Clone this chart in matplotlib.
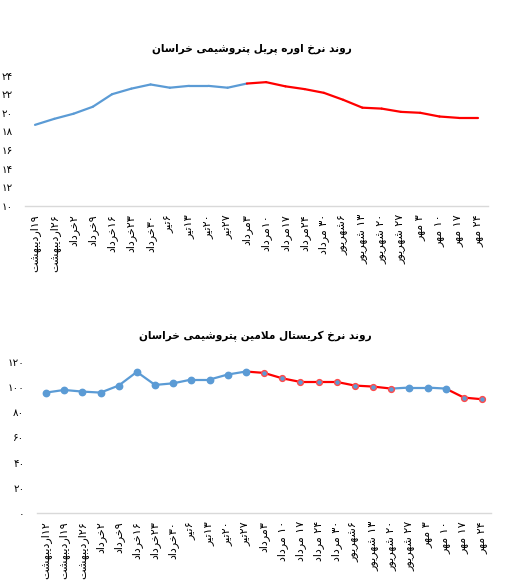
import matplotlib
matplotlib.use("Agg")
import matplotlib.pyplot as plt
from matplotlib.ticker import FuncFormatter

# ---- data ----
urea_labels = ["۱۹اردیبهشت", "۲۶اردیبهشت", "۲خرداد", "۹خرداد", "۱۶خرداد", "۲۳خرداد",
               "۳۰خرداد", "۶تیر", "۱۳تیر", "۲۰تیر", "۲۷تیر", "۳مرداد", "۱۰مرداد",
               "۱۷مرداد", "۲۴مرداد", "۳۰ مرداد", "۶شهریور", "۱۳ شهریور", "۲۰ شهریور",
               "۲۷ شهریور", "۳ مهر", "۱۰ مهر", "۱۷ مهر", "۲۴ مهر"]
urea_values = [18.7, 19.35, 19.9, 20.65, 22.0, 22.6, 23.05, 22.7, 22.9, 22.9, 22.7, 23.15,
               23.3, 22.85, 22.55, 22.15, 21.4, 20.55, 20.45, 20.1, 20.0, 19.6, 19.45, 19.45]

melamine_labels = ["۱۲اردیبهشت", "۱۹اردیبهشت", "۲۶اردیبهشت", "۲خرداد", "۹خرداد", "۱۶خرداد",
                   "۲۳خرداد", "۳۰خرداد", "۶تیر", "۱۳تیر", "۲۰تیر", "۲۷تیر", "۳مرداد",
                   "۱۰ مرداد", "۱۷ مرداد", "۲۴ مرداد", "۳۰ مرداد", "۶شهریور", "۱۳ شهریور",
                   "۲۰ شهریور", "۲۷ شهریور", "۳ مهر", "۱۰ مهر", "۱۷ مهر", "۲۴ مهر"]
melamine_values = [95.8, 97.9, 96.6, 95.8, 101.4, 112.3, 101.9, 103.2, 106.2, 106.2, 110.2, 112.6,
                   111.5, 107.2, 104.3, 104.3, 104.3, 101.4, 100.6, 99.0, 99.8, 99.8, 99.0,
                   91.8, 90.5]

# styling: which segments / points are drawn red
urea_red_segments = [i >= 11 for i in range(len(urea_values) - 1)]
mel_red_segments = [(11 <= i <= 18) or i >= 22 for i in range(len(melamine_values) - 1)]
mel_red_points = [(12 <= i <= 19) or i >= 23 for i in range(len(melamine_values))]

BLUE = "#5B9BD5"
RED = "#FF0000"
GRID = "#D9D9D9"

# ---- minimal Persian shaping (matplotlib has no bidi / joining) ----
# isolated, final, initial, medial
FORMS = {
    "ا": ("\uFE8D", "\uFE8E", None, None),
    "ب": ("\uFE8F", "\uFE90", "\uFE91", "\uFE92"),
    "پ": ("\uFB56", "\uFB57", "\uFB58", "\uFB59"),
    "ت": ("\uFE95", "\uFE96", "\uFE97", "\uFE98"),
    "خ": ("\uFEA5", "\uFEA6", "\uFEA7", "\uFEA8"),
    "د": ("\uFEA9", "\uFEAA", None, None),
    "ر": ("\uFEAD", "\uFEAE", None, None),
    "س": ("\uFEB1", "\uFEB2", "\uFEB3", "\uFEB4"),
    "ش": ("\uFEB5", "\uFEB6", "\uFEB7", "\uFEB8"),
    "ک": ("\uFB8E", "\uFB8F", "\uFB90", "\uFB91"),
    "ل": ("\uFEDD", "\uFEDE", "\uFEDF", "\uFEE0"),
    "م": ("\uFEE1", "\uFEE2", "\uFEE3", "\uFEE4"),
    "ن": ("\uFEE5", "\uFEE6", "\uFEE7", "\uFEE8"),
    "ه": ("\uFEE9", "\uFEEA", "\uFEEB", "\uFEEC"),
    "و": ("\uFEED", "\uFEEE", None, None),
    "ی": ("\uFBFC", "\uFBFD", "\uFBFE", "\uFBFF"),
}
DIGITS = "۰۱۲۳۴۵۶۷۸۹"


def joins_forward(c):
    return c in FORMS and FORMS[c][2] is not None


def shape(word):
    out = []
    i = 0
    while i < len(word):
        c = word[i]
        prev = word[i - 1] if i > 0 else ""
        if c not in FORMS:
            out.append(c)
            i += 1
            continue
        joined_prev = joins_forward(prev)
        if c == "ل" and i + 1 < len(word) and word[i + 1] == "ا":
            out.append("\uFEFC" if joined_prev else "\uFEFB")
            i += 2
            continue
        nxt = word[i + 1] if i + 1 < len(word) else ""
        joined_next = joins_forward(c) and nxt in FORMS
        iso, fin, ini, med = FORMS[c]
        if joined_prev and joined_next:
            out.append(med)
        elif joined_prev:
            out.append(fin)
        elif joined_next:
            out.append(ini)
        else:
            out.append(iso)
        i += 1
    return "".join(out)


def fa(text):
    # split into digit / non-digit runs, lay them out right to left
    runs = []
    for ch in text:
        is_d = ch in DIGITS
        if runs and runs[-1][0] == is_d:
            runs[-1][1] += ch
        else:
            runs.append([is_d, ch])
    parts = []
    for is_d, s in reversed(runs):
        parts.append(s if is_d else shape(s)[::-1])
    return "".join(parts)


def fa_num(v, pos=None):
    s = str(int(round(v)))
    return "".join(DIGITS[int(d)] for d in s)


def style_axes(ax, labels, ymin, ymax, ystep):
    ax.set_xlim(-0.5, len(labels) - 0.5)
    ax.set_ylim(ymin, ymax)
    ax.set_yticks(range(ymin, ymax + 1, ystep))
    ax.yaxis.set_major_formatter(FuncFormatter(fa_num))
    ax.set_xticks(range(len(labels)))
    ax.set_xticklabels([fa(l) for l in labels], rotation=90, va="top", ha="center", fontsize=8)
    for s in ["top", "right", "left"]:
        ax.spines[s].set_visible(False)
    ax.spines["bottom"].set_color(GRID)
    ax.spines["bottom"].set_linewidth(1.0)
    ax.tick_params(axis="both", length=0)
    ax.tick_params(axis="y", labelsize=7.5, pad=9)
    ax.tick_params(axis="x", pad=6)


fig = plt.figure(figsize=(5.15, 5.81), dpi=100)

# top chart: urea
ax1 = fig.add_axes([0.0493, 0.646, 0.8975, 0.2238])
for i in range(len(urea_values) - 1):
    ax1.plot([i, i + 1], urea_values[i:i + 2], color=RED if urea_red_segments[i] else BLUE,
             linewidth=1.6, solid_capstyle="round")
style_axes(ax1, urea_labels, 10, 24, 2)
fig.text(0.49, 0.9157, fa("روند نرخ اوره پریل پتروشیمی خراسان"), ha="center", va="center",
         fontsize=7.6, fontweight="bold")

# bottom chart: melamine
ax2 = fig.add_axes([0.0717, 0.1176, 0.882, 0.2589])
for i in range(len(melamine_values) - 1):
    ax2.plot([i, i + 1], melamine_values[i:i + 2], color=RED if mel_red_segments[i] else BLUE,
             linewidth=1.6, solid_capstyle="round", zorder=2)
for i, v in enumerate(melamine_values):
    red_pt = mel_red_points[i]
    ax2.plot(i, v, marker="o", markersize=4.2 if red_pt else 4.6, markerfacecolor=BLUE,
             markeredgecolor="#FF4A4A" if red_pt else BLUE,
             markeredgewidth=1.0, zorder=3)
style_axes(ax2, melamine_labels, 0, 120, 20)
fig.text(0.495, 0.4205, fa("روند نرخ کریستال ملامین پتروشیمی خراسان"), ha="center", va="center",
         fontsize=7.6, fontweight="bold")

fig.savefig("out.png", dpi=100)
